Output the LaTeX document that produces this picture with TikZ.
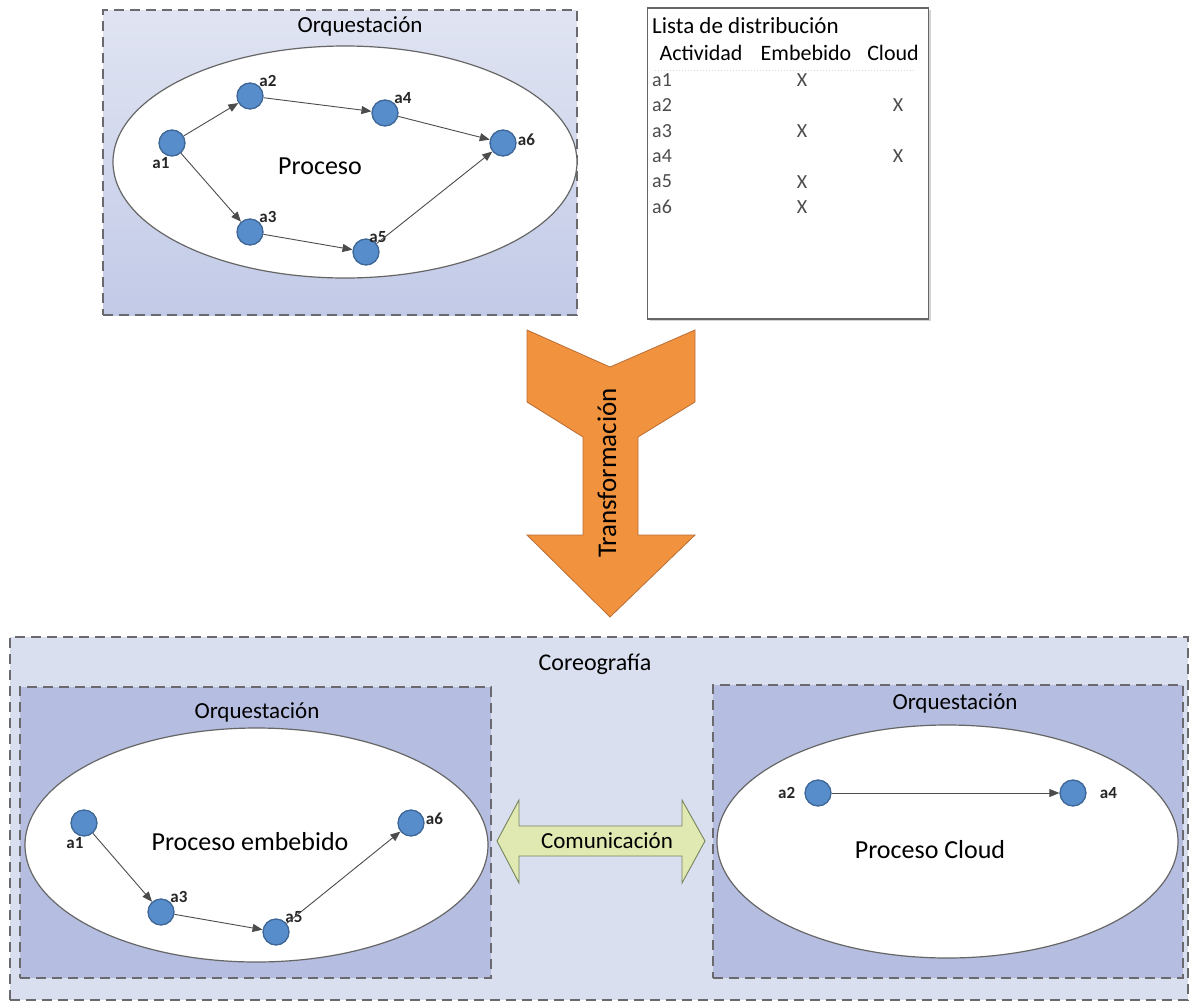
\documentclass[tikz,border=0pt]{standalone}
\usepackage{fontspec}
\setmainfont{Carlito}
\usepackage{tikz}
\usetikzlibrary{positioning,arrows.meta,shapes.geometric,shadows}
\definecolor{BoxBorder}{RGB}{105,105,110}
\definecolor{OrqLight}{RGB}{224,228,242}
\definecolor{OrqDark}{RGB}{194,202,231}
\definecolor{OrqInner}{RGB}{181,190,224}
\definecolor{CoreoFill}{RGB}{218,223,240}
\definecolor{ActFill}{RGB}{88,141,204}
\definecolor{ActDraw}{RGB}{62,102,150}
\definecolor{TransOrange}{RGB}{240,146,62}
\definecolor{TransBorder}{RGB}{185,110,55}
\definecolor{ComFill}{RGB}{225,233,178}
\definecolor{ComBorder}{RGB}{118,132,92}
\tikzset{
    orqbox/.style={rectangle, draw=BoxBorder, line width=1.4pt, dash pattern=on 10pt off 6pt},
    proceso/.style={ellipse, draw=black!60, line width=1.2pt, fill=white},
    actividad/.style={circle, fill=ActFill, draw=ActDraw, line width=1.3pt, minimum size=26pt, inner sep=0pt},
    flujo/.style={draw=black!70, line width=0.9pt, -{Triangle[length=10pt,width=8pt]}},
    lbl/.style={font=\fontsize{17}{17}\selectfont\bfseries, inner sep=1pt, text=black!85}
}

\begin{document}
\begin{tikzpicture}[
        x=1pt, y=-1pt,
        % titulos de las cajas
        titulo/.style={font=\fontsize{23}{25}\selectfont, inner sep=1pt},
        % texto de los procesos
        nombre/.style={font=\fontsize{26}{28}\selectfont, inner sep=1pt},
        % texto de la lista
        tabla/.style={font=\fontsize{22}{24}\selectfont, inner sep=1pt},
        fila/.style={font=\fontsize{20}{22}\selectfont, inner sep=1pt, text=black!70}
    ]
    \useasboundingbox (0,0) rectangle (1192,1007);

    % --- ORQUESTACION ORIGINAL ---
    \node[orqbox, top color=OrqLight, bottom color=OrqDark, minimum width=474pt, minimum height=305pt] (orqTop) at (340,162.5) {};
    \node[titulo] (tOrqTop) at (360,26) {Orquestación};
    \node[proceso, minimum width=464pt, minimum height=232pt] (proc) at (345,162) {};
    \node[nombre] (tProc) at (320,166) {Proceso};

    \node[actividad, label={[lbl, xshift=-11pt]below:a1}] (a1) at (172,143) {};
    \node[actividad, label={[lbl, label distance=-2pt]above right:a2}] (a2) at (250,96) {};
    \node[actividad, label={[lbl, label distance=-2pt]above right:a4}] (a4) at (385,113) {};
    \node[actividad, label={[lbl, yshift=3pt]right:a6}] (a6) at (503,143) {};
    \node[actividad, label={[lbl, label distance=-2pt]above right:a3}] (a3) at (250,232) {};
    \node[actividad, label={[lbl, xshift=-6pt, label distance=-2pt]above right:a5}] (a5) at (366,252) {};

    \draw[flujo] (a1) -- (a2);
    \draw[flujo] (a2) -- (a4);
    \draw[flujo] (a4) -- (a6);
    \draw[flujo] (a1) -- (a3);
    \draw[flujo] (a3) -- (a5);
    \draw[flujo] (a5) -- (a6);

    % --- LISTA DE DISTRIBUCION ---
    \node[rectangle, draw=black!60, line width=1.2pt, fill=white,
        drop shadow={opacity=0.35, shadow xshift=2pt, shadow yshift=-2pt},
        minimum width=281pt, minimum height=311pt] (lista) at (788,163.5) {};
    \node[tabla, font=\fontsize{23}{25}\selectfont, anchor=west] (tLista) at (651,26) {Lista de distribución};
    \node[tabla] (hAct) at (701,53) {Actividad};
    \node[tabla] (hEmb) at (806,53) {Embebido};
    \node[tabla] (hCld) at (893,53) {Cloud};
    \draw[black!15, line width=1pt, dotted] (655,70) -- (915,70);
    \foreach \act/\col [count=\i] in {a1/802, a2/898, a3/802, a4/898, a5/802, a6/802} {
        \node[fila, anchor=west] (f\act) at (651,54.6+25.4*\i) {\act};
        \node[fila] (x\act) at (\col,54.6+25.4*\i) {X};
    }

    % --- TRANSFORMACION ---
    \draw[fill=TransOrange, draw=TransBorder, line width=0.8pt]
        (527,330) -- (610,367) -- (695,330) -- (695,402) -- (638,437) -- (638,535)
        -- (695,535) -- (610,617) -- (527,535) -- (583,535) -- (583,437) -- (527,402) -- cycle;
    \node[rotate=90, font=\fontsize{27}{29}\selectfont] (tTrans) at (607,473) {Transformación};

    % --- COREOGRAFIA ---
    \node[orqbox, fill=CoreoFill, minimum width=1178pt, minimum height=363pt] (coreo) at (599,818.5) {};
    \node[titulo, font=\fontsize{24}{26}\selectfont] (tCoreo) at (595,664) {Coreografía};

    % caja izquierda: proceso embebido
    \node[orqbox, fill=OrqInner, minimum width=471pt, minimum height=291pt] (orqEmb) at (255.5,832.5) {};
    \node[titulo] (tOrqEmb) at (257,712) {Orquestación};
    \node[proceso, minimum width=463pt, minimum height=234pt] (procEmb) at (256.5,845) {};
    \node[nombre] (tProcEmb) at (250,842) {Proceso embebido};

    \node[actividad, label={[lbl, xshift=-9pt]below:a1}] (e1) at (84,823) {};
    \node[actividad, label={[lbl, label distance=-2pt]above right:a3}] (e3) at (161,912) {};
    \node[actividad, label={[lbl, label distance=-2pt]above right:a5}] (e5) at (276,932) {};
    \node[actividad, label={[lbl, yshift=4pt]right:a6}] (e6) at (411,823) {};

    \draw[flujo] (e1) -- (e3);
    \draw[flujo] (e3) -- (e5);
    \draw[flujo] (e5) -- (e6);

    % caja derecha: proceso cloud
    \node[orqbox, fill=OrqInner, minimum width=470pt, minimum height=293pt] (orqCld) at (948,831.5) {};
    \node[titulo] (tOrqCld) at (955,703) {Orquestación};
    \node[proceso, minimum width=461pt, minimum height=233pt] (procCld) at (947.5,841.5) {};
    \node[nombre] (tProcCld) at (930,850) {Proceso Cloud};

    \node[actividad, label={[lbl, label distance=8pt]left:a2}] (c2) at (818,793) {};
    \node[actividad, label={[lbl, label distance=12pt]right:a4}] (c4) at (1073,793) {};

    \draw[flujo] (c2) -- (c4);

    % --- COMUNICACION ---
    \draw[fill=ComFill, draw=ComBorder, line width=0.9pt]
        (497,841) -- (519,800) -- (519,826) -- (682,826) -- (682,800) -- (705,841)
        -- (682,883) -- (682,856) -- (519,856) -- (519,883) -- cycle;
    \node[titulo] (tCom) at (607,841) {Comunicación};

\end{tikzpicture}
\end{document}
